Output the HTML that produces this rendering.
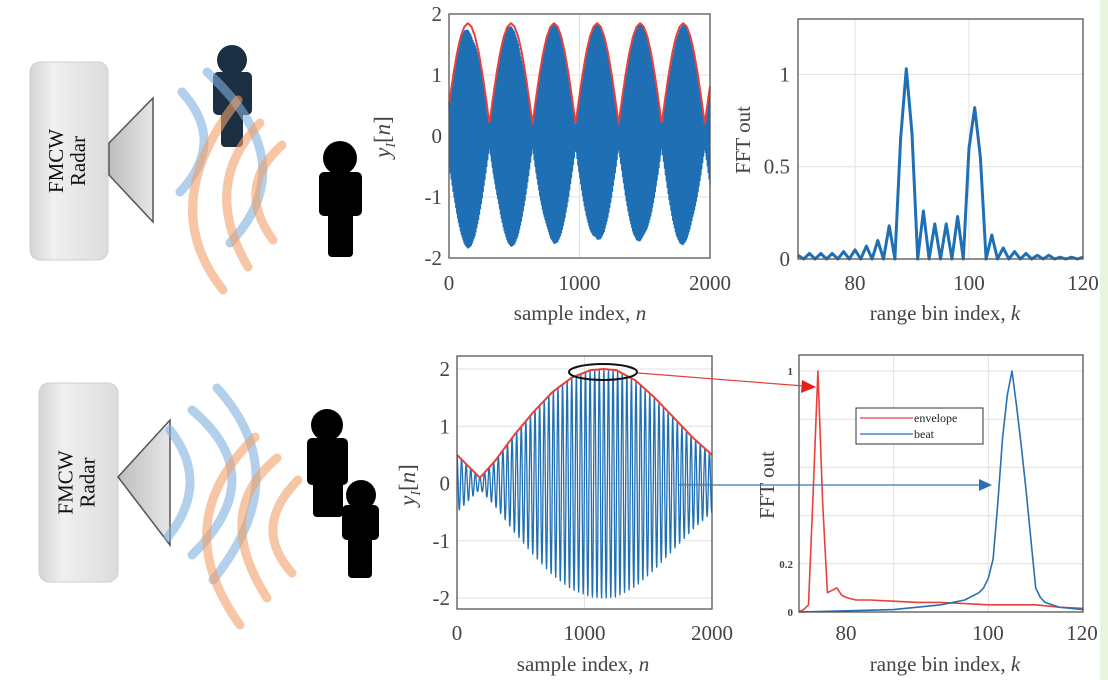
<!DOCTYPE html>
<html><head><meta charset="utf-8"><style>
html,body{margin:0;padding:0;background:#fff;width:1108px;height:680px;overflow:hidden}
svg{display:block}
text{font-family:"Liberation Serif",serif;fill:#444}
</style></head><body>
<svg id="fig" width="1108" height="680" viewBox="0 0 1108 680">
<defs>
<linearGradient id="boxg" x1="0" x2="1"><stop offset="0" stop-color="#d4d4d4"/><stop offset="0.3" stop-color="#f0f0f0"/><stop offset="1" stop-color="#dcdcdc"/></linearGradient>
<linearGradient id="trig" x1="0" x2="1"><stop offset="0" stop-color="#bdbdbd"/><stop offset="1" stop-color="#e6e6e6"/></linearGradient>
</defs>
<rect x="1100" y="0" width="8" height="680" fill="#e9f4df"/>
<g id="scene"></g>
<g id="charts"></g>
</svg>
<script>
// ---- data ----
const envTopPeriod = 330;
const envTopPhase = -20;
const envTopShapeT = [0,27.5,55,82.5,110,137.5,165,192.5,220,247.5,275,302.5,330];
const envTopShapeV = [0.2,0.63,1.03,1.37,1.63,1.79,1.85,1.79,1.63,1.37,1.03,0.63,0.2];
const fftTopK = [70,71,72,73,74,75,76,77,78,79,80,81,82,83,84,85,86,87,88,89,90,91,92,93,94,95,96,97,98,99,100,101,102,103,104,105,106,107,108,109,110,111,112,113,114,115,116,117,118,119,120];
const fftTopV = [0.02,0,0.03,0,0.03,0,0.03,0,0.04,0,0.05,0,0.07,0,0.1,0,0.18,0,0.65,1.03,0.68,0,0.26,0,0.19,0,0.19,0,0.23,0,0.6,0.82,0.55,0,0.13,0,0.06,0,0.04,0,0.03,0,0.02,0,0.02,0,0.01,0,0.01,0,0.01];
const envBotN = [0,90,180,300,450,600,750,900,1050,1150,1250,1400,1550,1700,1850,2000];
const envBotV = [0.5,0.3,0.1,0.4,0.85,1.25,1.6,1.85,1.98,2.0,1.98,1.8,1.5,1.15,0.8,0.5];
const fftBotK = [60,61,62,63,64,65,66,67,68,69,70,72,75,80,85,90,95,100,105,110,115,120];
const envFft = [0,0.01,0.03,0.5,1.0,0.45,0.08,0.09,0.1,0.07,0.06,0.05,0.05,0.045,0.04,0.04,0.035,0.03,0.03,0.03,0.02,0.015];
const beatK = [60,70,80,90,95,98,99,100,101,102,103,104,105,106,107,108,109,110,111,112,115,120];
const beatV = [0,0.005,0.01,0.03,0.05,0.08,0.1,0.14,0.22,0.45,0.72,0.9,1.0,0.85,0.68,0.5,0.3,0.1,0.06,0.04,0.02,0.01];
const xTicksTop = [0,1000,2000];
const yTicksSig = [2,1,0,-1,-2];
const yTicksFftTop = [1,0.5,0];
const kTicksTop = [80,100,120];

const NS='http://www.w3.org/2000/svg';
function mk(tag,attrs,parent,txt){const e=document.createElementNS(NS,tag);for(const k in attrs)e.setAttribute(k,attrs[k]);if(txt!==undefined)e.textContent=txt;parent.appendChild(e);return e;}
const scene=document.getElementById('scene'), charts=document.getElementById('charts');
function lin(d0,d1,r0,r1){return v=>r0+(v-d0)*(r1-r0)/(d1-d0);}
function interp(xs,ys,x){if(x<=xs[0])return ys[0];for(let i=1;i<xs.length;i++){if(x<=xs[i]){const t=(x-xs[i-1])/(xs[i]-xs[i-1]);return ys[i-1]+t*(ys[i]-ys[i-1]);}}return ys[ys.length-1];}
function envTop(n){let t=((n-envTopPhase)%envTopPeriod+envTopPeriod)%envTopPeriod;return interp(envTopShapeT,envTopShapeV,t);}
function qpath(p0,m,p2){const c=[2*m[0]-(p0[0]+p2[0])/2,2*m[1]-(p0[1]+p2[1])/2];return `M${p0[0]},${p0[1]} Q${c[0]},${c[1]} ${p2[0]},${p2[1]}`;}

// ---- scene ----
function radar(x,y,w,h,tri,prefix){
  let e=mk('rect',{x:x,y:y,width:w,height:h,rx:10,fill:'url(#boxg)',stroke:'#cfcfcf','stroke-width':1},scene);
  
  
  const cx=x+w/2, cy=y+h/2;
  e=mk('text',{x:0,y:0,transform:`translate(${cx-6},${cy}) rotate(-90)`,'text-anchor':'middle','font-size':21,style:'fill:#111'},scene,'FMCW');
  
  
  e=mk('text',{x:0,y:0,transform:`translate(${cx+16},${cy}) rotate(-90)`,'text-anchor':'middle','font-size':21,style:'fill:#111'},scene,'Radar');
  
  
  e=mk('polygon',{points:tri,fill:'url(#trig)',stroke:'#555','stroke-width':1.5},scene);
  
  
}
radar(30,62,78,198,'109,143 153,98 153,222 109,175','top');
radar(39,383,79,199,'118,477 170,420 170,545','bottom');
function arc(p0,m,p2,col,name){const e=mk('path',{d:qpath(p0,m,p2),fill:'none',stroke:col,'stroke-width':9,'stroke-linecap':'round',opacity:0.6},scene);
  
  }
function person(hx,hy,r,bx0,bx1,by0,by1,lx0,lx1,ly1,col,name){
  const g=mk('g',{fill:col},scene);
  
  
  mk('circle',{cx:hx,cy:hy,r:r},g);
  mk('rect',{x:bx0,y:by0,width:bx1-bx0,height:by1-by0,rx:5},g);
  mk('rect',{x:lx0,y:by1-4,width:lx1-lx0,height:ly1-by1+4,rx:4},g);
}
person(232,60,15,213,252,72,115,221,243,147,'#1c2f42','top-person-near');
person(340,158,17,319,362,172,216,328,353,257,'#000','top-person-far');
arc([182,92],[204,142],[180,192],'#7fb1de','top-wave-blue-1');
arc([207,72],[262,160],[230,243],'#7fb1de','top-wave-blue-2');
arc([238,100],[193,200],[223,290],'#f0a06a','top-wave-orange-1');
arc([260,123],[227,190],[248,267],'#f0a06a','top-wave-orange-2');
arc([282,145],[256,190],[273,240],'#f0a06a','top-wave-orange-3');
person(327,425,16,307,348,438,485,313,343,517,'#000','bottom-person-a');
person(361,495,15,342,379,505,540,348,372,578,'#000','bottom-person-b');
arc([170,430],[190,483],[168,537],'#7fb1de','bottom-wave-blue-1');
arc([192,410],[232,480],[192,555],'#7fb1de','bottom-wave-blue-2');
arc([217,388],[256,480],[213,580],'#7fb1de','bottom-wave-blue-3');
arc([255,437],[207,527],[240,625],'#f0a06a','bottom-wave-orange-1');
arc([277,458],[242,520],[267,598],'#f0a06a','bottom-wave-orange-2');
arc([298,480],[273,527],[292,573],'#f0a06a','bottom-wave-orange-3');

// ---- chart helpers ----
function frame(x0,x1,y0,y1,name){const e=mk('rect',{x:x0,y:y0,width:x1-x0,height:y1-y0,fill:'none',stroke:'#555','stroke-width':1.3},charts);
  
  }
function grid(x0,y0,x1,y1){mk('line',{x1:x0,y1:y0,x2:x1,y2:y1,stroke:'#e0e0e0','stroke-width':1},charts);}
function label(x,y,t,anchor,size,name,extra){const e=mk('text',Object.assign({x:x,y:y,'text-anchor':anchor,'font-size':size},extra||{}),charts,t);
  
  return e;}
function ylab(x,y,name){const e=mk('text',{x:0,y:0,transform:`translate(${x},${y}) rotate(-90)`,'text-anchor':'middle','font-size':23},charts);
  
  
  mk('tspan',{'font-style':'italic'},e,'y');mk('tspan',{'font-size':14,dy:5,'font-style':'italic'},e,'I');mk('tspan',{dy:-5},e,'[');mk('tspan',{'font-style':'italic'},e,'n');mk('tspan',{},e,']');}
function xlab(x,y,pre,v,name){const e=mk('text',{x:x,y:y,'text-anchor':'middle','font-size':21},charts);
  
  
  mk('tspan',{},e,pre);mk('tspan',{'font-style':'italic'},e,v);}
function line(pts,col,w,name){const e=mk('polyline',{points:pts.map(p=>p[0].toFixed(1)+','+p[1].toFixed(1)).join(' '),fill:'none',stroke:col,'stroke-width':w,'stroke-linejoin':'round'},charts);
  
  }

// ---- chart 1: top signal ----
{const X=lin(0,2000,449,710),Y=lin(-2,2,258,14);
 xTicksTop.forEach(v=>grid(X(v),14,X(v),258)); yTicksSig.forEach(v=>grid(449,Y(v),710,Y(v)));
 const pts=[];for(let n=0;n<=2000;n+=1){const e=envTop(n);pts.push([X(n),Y(e*Math.cos(n*0.9))]);}
 line(pts,'#1f6fb4',1.3,'top-beat-signal');
 const ep=[];for(let n=0;n<=2000;n+=4)ep.push([X(n),Y(envTop(n))]);
 line(ep,'#e8403a',2,'top-envelope');
 frame(449,710,14,258,'top-signal-axes');
 xTicksTop.forEach(v=>label(X(v),290,String(v),'middle',21,'top-x-tick'));
 yTicksSig.forEach(v=>label(442,Y(v)+7,String(v),'end',21,'top-y-tick'));
 ylab(390,137,'top-y-axis-title');
 xlab(580,320,'sample index, ','n','top-x-axis-title');}

// ---- chart 2: top FFT ----
{const X=lin(70,120,798,1083),Y=lin(0,1.3,259,19);
 kTicksTop.forEach(v=>grid(X(v),19,X(v),259)); yTicksFftTop.forEach(v=>grid(798,Y(v),1083,Y(v)));
 line(fftTopK.map((k,i)=>[X(k),Y(fftTopV[i])]),'#1f6fb4',3,'top-fft-line');
 frame(798,1083,19,259,'top-fft-axes');
 kTicksTop.forEach(v=>label(X(v),290,String(v),'middle',21,'top-fft-x-tick'));
 yTicksFftTop.forEach(v=>label(790,Y(v)+7,String(v),'end',21,'top-fft-y-tick'));
 const e=mk('text',{x:0,y:0,transform:'translate(750,140) rotate(-90)','text-anchor':'middle','font-size':21},charts,'FFT out');
 
 
 xlab(945,320,'range bin index, ','k','top-fft-x-axis-title');}

// ---- chart 3: bottom signal ----
{const X=lin(0,2000,457,712),Y=lin(-2,2,598,369);
 xTicksTop.forEach(v=>grid(X(v),356,X(v),609)); yTicksSig.forEach(v=>grid(457,Y(v),712,Y(v)));
 const pts=[];for(let n=0;n<=2000;n+=2){const e=interp(envBotN,envBotV,n);pts.push([X(n),Y(e*Math.cos(n*2*Math.PI/36))]);}
 line(pts,'#1f6fb4',1.3,'bottom-beat-signal');
 const ep=[];for(let n=0;n<=2000;n+=10)ep.push([X(n),Y(interp(envBotN,envBotV,n))]);
 line(ep,'#e8403a',2,'bottom-envelope');
 frame(457,712,356,609,'bottom-signal-axes');
 xTicksTop.forEach(v=>label(X(v),640,String(v),'middle',21,'bottom-x-tick'));
 yTicksSig.forEach(v=>label(450,Y(v)+7,String(v),'end',21,'bottom-y-tick'));
 ylab(415,485,'bottom-y-axis-title');
 xlab(583,671,'sample index, ','n','bottom-x-axis-title');}

// ---- chart 4: bottom FFT ----
{const X=lin(60,120,799,1083),Y=lin(0,1,612,371);
 [80,100].forEach(v=>grid(X(v),355,X(v),612)); [0.2,0.4,0.6,0.8,1].forEach(v=>grid(799,Y(v),1083,Y(v)));
 line(fftBotK.map((k,i)=>[X(k),Y(envFft[i])]),'#e8403a',1.6,'envelope-fft-line');
 line(beatK.map((k,i)=>[X(k),Y(beatV[i])]),'#2a70b0',1.6,'beat-fft-line');
 frame(799,1083,355,612,'bottom-fft-axes');
 [[846,'80'],[988,'100'],[1082,'120']].forEach(a=>label(a[0],640,a[1],'middle',21,'bottom-fft-x-tick'));
 [[1,'1'],[0.2,'0.2'],[0,'0']].forEach(a=>label(793,Y(a[0])+4,a[1],'end',11,'bottom-fft-y-tick',{'font-weight':'bold'}));
 const e=mk('text',{x:0,y:0,transform:'translate(774,485) rotate(-90)','text-anchor':'middle','font-size':21},charts,'FFT out');
 
 
 xlab(945,671,'range bin index, ','k','bottom-fft-x-axis-title');
 const lg=mk('g',{},charts);
 
 
 mk('rect',{x:856,y:408,width:127,height:36,fill:'#fff',stroke:'#333','stroke-width':1},lg);
 mk('line',{x1:860,y1:418,x2:913,y2:418,stroke:'#e8403a','stroke-width':1.3},lg);
 mk('line',{x1:860,y1:434,x2:913,y2:434,stroke:'#2a70b0','stroke-width':1.3},lg);
 let t=mk('text',{x:914,y:422,'font-size':12,style:'fill:#222'},lg,'envelope');
 
 
 t=mk('text',{x:914,y:438,'font-size':12,style:'fill:#222'},lg,'beat');
 
 }

// ---- annotations ----
{let e=mk('ellipse',{cx:603,cy:372,rx:34,ry:8,fill:'none',stroke:'#111','stroke-width':2},charts);
 
 
 e=mk('line',{x1:638,y1:373,x2:804,y2:386,stroke:'#e8403a','stroke-width':1.2},charts);
 
 
 mk('polygon',{points:'816,387 802,380 801,393',fill:'#e8201a'},charts);
 e=mk('line',{x1:678,y1:485,x2:980,y2:485,stroke:'#3a78b5','stroke-width':1.2},charts);
 
 
 mk('polygon',{points:'992,485 979,479 979,491',fill:'#2a70b0'},charts);}
</script>
</body></html>
